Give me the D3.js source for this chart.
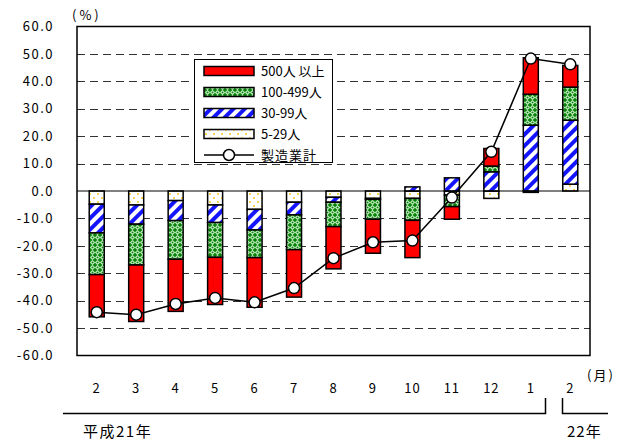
<!DOCTYPE html>
<html><head><meta charset="utf-8">
<script src="https://cdn.jsdelivr.net/npm/d3@7"></script>
<style>
html,body{margin:0;padding:0;background:#fff;}
svg text{font-family:"Noto Sans CJK JP","DejaVu Sans",sans-serif;fill:#000;}
</style></head>
<body><svg id="c" width="628" height="441"></svg>
<script>
const months = ["2","3","4","5","6","7","8","9","10","11","12","1","2"];
const seriesNames = ["5-29人","30-99人","100-499人","500人 以上"];
const s5_29   = [-4.8,-5.1,-3.5,-5.1,-6.7,-4.1,-2.3,-2.7,-2.7,-1.5,-2.7,-0.5,2.5];
const s30_99  = [-10.5,-7.0,-7.3,-6.4,-7.5,-4.6,-1.8,-0.3,1.5,4.8,7.0,24.0,23.3];
const s100_499= [-15.2,-14.9,-14.1,-12.7,-10.1,-12.7,-8.9,-7.3,-8.0,-4.2,2.1,11.3,12.1];
const s500    = [-15.4,-20.6,-19.0,-17.2,-18.1,-17.3,-15.4,-12.4,-13.6,-4.6,6.4,13.3,7.9];
const total   = [-44.2,-45.1,-41.2,-39.0,-40.6,-35.4,-24.5,-18.7,-18.1,-2.4,14.3,48.3,46.2];
const yTicks  = [60,50,40,30,20,10,0,-10,-20,-30,-40,-50,-60];
const totalName = "製造業計";

const svg = d3.select("#c");
const defs = svg.append("defs");
// patterns
const pY = defs.append("pattern").attr("id","pY").attr("width",8).attr("height",8).attr("patternUnits","userSpaceOnUse");
pY.append("rect").attr("width",8).attr("height",8).attr("fill","#fff");
pY.append("circle").attr("cx",2).attr("cy",2).attr("r",0.9).attr("fill","#f5c000");
pY.append("circle").attr("cx",6).attr("cy",6).attr("r",0.9).attr("fill","#f5c000");
const pB = defs.append("pattern").attr("id","pB").attr("width",8).attr("height",8).attr("patternUnits","userSpaceOnUse").attr("patternTransform","rotate(45)");
pB.append("rect").attr("width",8).attr("height",8).attr("fill","#fff");
pB.append("rect").attr("width",4).attr("height",8).attr("fill","#1414ff");
const pG = defs.append("pattern").attr("id","pG").attr("width",5).attr("height",5).attr("patternUnits","userSpaceOnUse");
pG.append("rect").attr("width",5).attr("height",5).attr("fill","#0b820b");
pG.append("path").attr("d","M2.5,0.6 L4.4,2.5 L2.5,4.4 L0.6,2.5Z").attr("fill","none").attr("stroke","#b8e8b8").attr("stroke-width",1.1);
const fills = ["url(#pY)","url(#pB)","url(#pG)","#ff0000"];

const L=77, R=590, T=26.5, B=355.5;
const x = d3.scaleBand().domain(d3.range(months.length)).range([L,R]).paddingInner(0.62).paddingOuter(0.31);
const y = d3.scaleLinear().domain([-60,60]).range([B,T]);

// grid
svg.append("g").selectAll("line").data(yTicks.filter(v=>v!==0 && v!==60 && v!==-60)).join("line")
  .attr("x1",L).attr("x2",R).attr("y1",d=>Math.round(y(d))+0.5).attr("y2",d=>Math.round(y(d))+0.5)
  .attr("stroke","#333").attr("stroke-width",1).attr("stroke-dasharray","8,5");
// frame
svg.append("rect").attr("x",L).attr("y",T).attr("width",R-L).attr("height",B-T).attr("fill","none").attr("stroke","#000").attr("stroke-width",1.5);
// y labels
svg.append("g").selectAll("text").data(yTicks).join("text")
  .attr("x",54).attr("y",d=>y(d)).attr("dy","0.36em").attr("text-anchor","end")
  .attr("font-size",13).attr("letter-spacing","1.5px").text(d=>d.toFixed(1));
svg.append("text").attr("x",72).attr("y",20).attr("font-size",13).attr("letter-spacing","3px").text("(%)");

// stacks
const table = months.map((m,i)=>({i, a:s5_29[i], b:s30_99[i], c:s100_499[i], d:s500[i]}));
const keys = ["a","b","c","d"];
const stack = d3.stack().keys(keys).offset(d3.stackOffsetDiverging)(table);
const gb = svg.append("g");
stack.forEach((layer,k)=>{
  gb.append("g").selectAll("rect").data(layer).join("rect")
    .attr("x",d=>x(d.data.i)).attr("width",x.bandwidth())
    .attr("y",d=>y(Math.max(d[0],d[1]))).attr("height",d=>Math.abs(y(d[0])-y(d[1])))
    .attr("fill",fills[k]).attr("stroke","#000").attr("stroke-width",1.5);
});
// zero line
svg.append("line").attr("x1",L).attr("x2",R).attr("y1",y(0)).attr("y2",y(0)).attr("stroke","#000").attr("stroke-width",1);

// total line
const cx = i=>x(i)+x.bandwidth()/2;
svg.append("path").datum(total).attr("fill","none").attr("stroke","#000").attr("stroke-width",1.5)
  .attr("d",d3.line().x((d,i)=>cx(i)).y(d=>y(d)));
svg.append("g").selectAll("circle").data(total).join("circle")
  .attr("cx",(d,i)=>cx(i)).attr("cy",d=>y(d)).attr("r",5.5).attr("fill","#fff").attr("stroke","#000").attr("stroke-width",1.5);

// x labels
svg.append("g").selectAll("text").data(months).join("text")
  .attr("x",(d,i)=>cx(i)).attr("y",393).attr("text-anchor","middle").attr("font-size",13).attr("letter-spacing","1px").text(d=>d);
svg.append("text").attr("x",587).attr("y",380).attr("font-size",13).attr("letter-spacing","2px").text("(月)");
// year brackets
svg.append("path").attr("d","M63,413.5 H545.5 V398").attr("fill","none").attr("stroke","#000").attr("stroke-width",1.5);
svg.append("path").attr("d","M562.5,398 V413.5 H608").attr("fill","none").attr("stroke","#000").attr("stroke-width",1.5);
svg.append("text").attr("x",83).attr("y",437).attr("font-size",15).attr("letter-spacing","1.5px").text("平成21年");
svg.append("text").attr("x",567).attr("y",437).attr("font-size",15).attr("letter-spacing","1px").text("22年");

// legend
const lg = svg.append("g");
lg.append("rect").attr("x",194.5).attr("y",59.5).attr("width",138).attr("height",103).attr("fill","#fff").attr("stroke","#000").attr("stroke-width",1);
const legItems = [
  {name:seriesNames[3], fill:fills[3]},
  {name:seriesNames[2], fill:fills[2]},
  {name:seriesNames[1], fill:fills[1]},
  {name:seriesNames[0], fill:fills[0]}
];
legItems.forEach((it,j)=>{
  const cy = 71 + j*21;
  lg.append("rect").attr("x",204).attr("y",cy-4.5).attr("width",50).attr("height",9).attr("fill",it.fill).attr("stroke","#000").attr("stroke-width",1.5);
  lg.append("text").attr("x",261).attr("y",cy).attr("dy","0.36em").attr("font-size",13).text(it.name);
});
const ly = 155;
lg.append("line").attr("x1",204).attr("x2",254).attr("y1",ly).attr("y2",ly).attr("stroke","#000").attr("stroke-width",1.5);
lg.append("circle").attr("cx",229).attr("cy",ly).attr("r",5.5).attr("fill","#fff").attr("stroke","#000").attr("stroke-width",1.5);
lg.append("text").attr("x",261).attr("y",ly).attr("dy","0.36em").attr("font-size",13).attr("letter-spacing","1px").text(totalName);
</script></body></html>
